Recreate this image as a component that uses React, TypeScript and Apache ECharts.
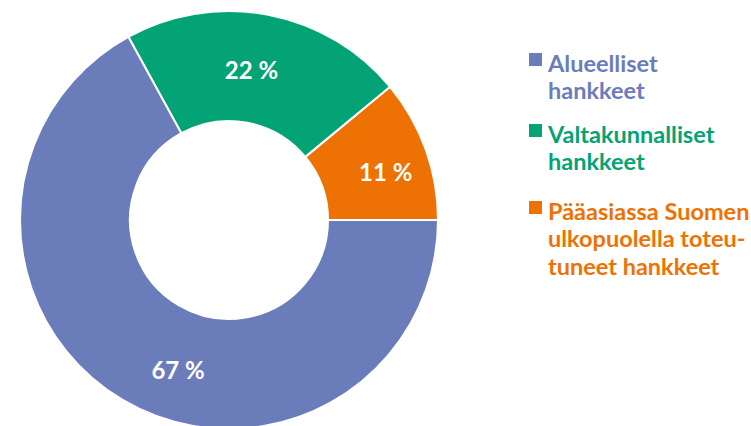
import React, { useEffect, useRef } from "react";
import * as echarts from "echarts";

const categories = [
  "Pääasiassa Suomen ulkopuolella toteutuneet hankkeet",
  "Valtakunnalliset hankkeet",
  "Alueelliset hankkeet",
];
const values = [11, 22, 67];
const colors = ["#ed7203", "#04a375", "#6b7cbb"];
const legendLines = [
  ["Pääasiassa Suomen", "ulkopuolella toteu-", "tuneet hankkeet"],
  ["Valtakunnalliset", "hankkeet"],
  ["Alueelliset", "hankkeet"],
];
const labelShift = [
  [9, 5],
  [-7, 4],
  [29, 14],
];

export default function App() {
  const ref = useRef<HTMLDivElement>(null);
  useEffect(() => {
    if (!ref.current) return;
    const chart = echarts.init(ref.current, null, { renderer: "svg" });
    const legendOrder = [2, 1, 0];
    const legendTops = [49, 120, 197];
    const graphic: any[] = [];
    legendOrder.forEach((idx, k) => {
      const top = legendTops[k];
      graphic.push({
        type: "rect",
        left: 529,
        top: top + 4,
        shape: { width: 13, height: 13 },
        style: { fill: colors[idx] },
      });
      graphic.push({
        type: "text",
        left: 548,
        top: top,
        style: {
          text: legendLines[idx].join("\n"),
          fill: colors[idx],
          font: "bold 23.5px Lato",
          lineHeight: 27.5,
        },
      });
    });
    chart.setOption({
      animation: false,
      graphic,
      series: [
        {
          type: "pie",
          center: [229, 220],
          radius: [99, 209],
          startAngle: 0,
          clockwise: false,
          avoidLabelOverlap: false,
          itemStyle: { borderColor: "#ffffff", borderWidth: 2 },
          label: {
            show: true,
            position: "inside",
            formatter: "{c} %",
            color: "#ffffff",
            fontFamily: "Lato",
            fontWeight: "bold",
            fontSize: 24,
          },
          labelLine: { show: false },
          labelLayout: (p: any) => ({
            dx: labelShift[p.dataIndex][0],
            dy: labelShift[p.dataIndex][1],
          }),
          emphasis: { disabled: true },
          data: categories.map((name, i) => ({
            name,
            value: values[i],
            itemStyle: { color: colors[i] },
          })),
        },
      ],
    });
    return () => chart.dispose();
  }, []);
  return (
    <div
      ref={ref}
      style={{ position: "absolute", left: 0, top: 0, width: 751, height: 426, background: "#ffffff" }}
    />
  );
}
